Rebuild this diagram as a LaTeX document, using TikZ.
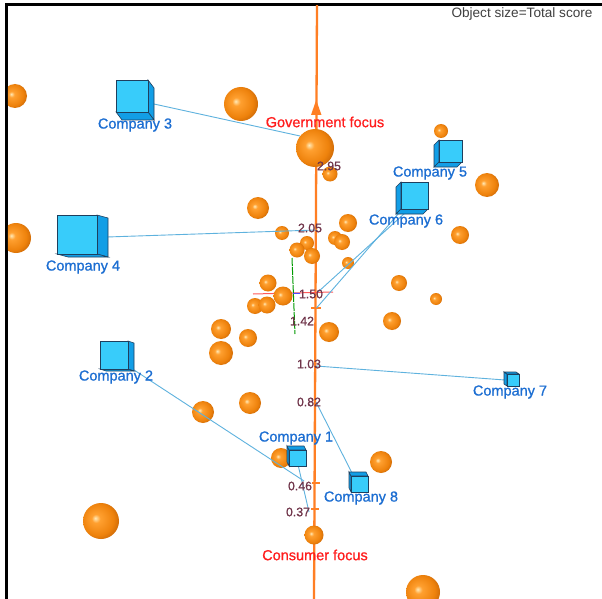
\documentclass[tikz,border=0pt]{standalone}
\usepackage{fontspec}
\setmainfont{Liberation Sans}
\newfontfamily\labelfont[FakeBold=0.9]{Liberation Sans}
\definecolor{axisorange}{HTML}{FF7F24}
\definecolor{sphHi}{HTML}{FFEAB8}
\definecolor{sphMid}{HTML}{FFA030}
\definecolor{sphBase}{HTML}{EE820C}
\definecolor{sphDark}{HTML}{9C4602}
\definecolor{cubeFront}{HTML}{38CCFA}
\definecolor{cubeSide}{HTML}{129EE6}
\definecolor{cubeEdge}{HTML}{1E3F5E}
\definecolor{linkblue}{HTML}{5EB2DE}
\definecolor{compblue}{HTML}{1C6ED2}
\definecolor{focusred}{HTML}{FF1E1E}
\definecolor{valcol}{HTML}{70354A}
\pgfdeclareradialshading{orangesphere}{\pgfqpoint{-8bp}{4bp}}{%
  color(0bp)=(sphHi); color(6bp)=(sphMid); color(22bp)=(sphBase);
  color(40bp)=(sphDark); color(50bp)=(sphDark)}
\tikzset{
  ball/.style={shading=orangesphere},
  link/.style={draw=linkblue, line width=0.9pt},
  complabel/.style={text=compblue, font=\labelfont\fontsize{14.5}{16}\selectfont, inner sep=0pt},
  focuslabel/.style={text=focusred, font=\labelfont\fontsize{14.5}{16}\selectfont, inner sep=0pt},
  vallabel/.style={text=valcol, font=\labelfont\fontsize{12.3}{14}\selectfont, inner sep=0pt},
  tick/.style={draw=axisorange, line width=1.2pt},
}
% sphere at (x,y) with radius r
\newcommand\orb[3]{\shade[ball] (#1,#2) circle (#3);}
% cube: name, front face x1 y1 x2 y2, depth offset dx dy
\newcommand\boxcube[7]{%
  \ifdim #6pt>0pt
    \filldraw[fill=cubeSide, draw=cubeEdge, line width=0.6pt]
      (#4,#3) -- ({#4+(#6)},{#3+(#7)}) -- ({#4+(#6)},{#5+(#7)}) -- (#4,#5) -- cycle;
  \else
    \filldraw[fill=cubeSide, draw=cubeEdge, line width=0.6pt]
      (#2,#3) -- ({#2+(#6)},{#3+(#7)}) -- ({#2+(#6)},{#5+(#7)}) -- (#2,#5) -- cycle;
  \fi
  \ifdim #7pt>0pt
    \filldraw[fill=cubeSide, draw=cubeEdge, line width=0.6pt]
      (#2,#5) -- ({#2+(#6)},{#5+(#7)}) -- ({#4+(#6)},{#5+(#7)}) -- (#4,#5) -- cycle;
  \else
    \filldraw[fill=cubeSide, draw=cubeEdge, line width=0.6pt]
      (#2,#3) -- ({#2+(#6)},{#3+(#7)}) -- ({#4+(#6)},{#3+(#7)}) -- (#4,#3) -- cycle;
  \fi
  \filldraw[fill=cubeFront, draw=cubeEdge, line width=0.6pt] (#2,#3) rectangle (#4,#5);
  \coordinate (#1) at ({(#2+#4)/2},{(#3+#5)/2});
}
\begin{document}
\begin{tikzpicture}[x=1pt,y=-1pt]
\useasboundingbox (0,0) rectangle (602,599);
\fill[white] (0,0) rectangle (602,599);

% frame
\draw[black, line width=2.6pt] (6.5,599) -- (6.5,4.5) -- (602,4.5);

\begin{scope}
\clip (7.8,5.8) rectangle (602,599);

% vertical axis
\coordinate (axTop) at (317,5);
\coordinate (axBot) at (314,599);
\draw[axisorange, line width=2.3pt] (axTop) -- (axBot);
\fill[axisorange] (316.2,100) -- (321.5,115) -- (311,115) -- cycle;

% reference marks near 1.50
\draw[red!65!white, line width=1pt] (253,294) -- (333,292);
\draw[green!60!black, line width=1pt, dash pattern=on 8pt off 1pt] (292,258) -- (295,334);
\draw[blue!70!white, line width=1pt] (293,293.5) -- (300,293.3);

% ticks on the axis
\draw[tick] (311,308) -- (321,308);
\draw[tick] (312,483) -- (320,483);
\draw[tick] (311,509) -- (319,509);

% spheres
\orb{15}{96}{12}
\orb{241}{104}{17}
\orb{315}{148}{19}
\orb{330}{174}{7.5}
\orb{441}{131}{7}
\orb{487}{185}{12}
\orb{258}{208}{11}
\orb{348}{223}{9}
\orb{16}{238}{15}
\orb{282}{233}{7}
\orb{460}{235}{9}
\orb{307}{243}{7}
\orb{297}{250}{7.5}
\orb{312}{256}{8}
\orb{335}{238}{7}
\orb{342}{242}{8}
\orb{348}{263}{6}
\orb{268}{283}{8.5}
\orb{283}{296}{9.5}
\orb{255}{306}{8}
\orb{267}{305}{8.5}
\orb{399}{283}{8}
\orb{436}{299}{6}
\orb{392}{321}{9}
\orb{329}{332}{10}
\orb{221}{329}{10}
\orb{248}{338}{9}
\orb{221}{353}{12}
\orb{250}{403}{11}
\orb{203}{412}{11}
\orb{281}{458}{10}
\orb{381}{462}{11}
\orb{101}{521}{18}
\orb{314}{535}{9.5}
\orb{423}{592}{17}

% axis anchor points for the companies
\coordinate (p295) at (300,136);
\coordinate (p205) at (316,230);
\coordinate (p150) at (318,292);
\coordinate (p150b) at (316.5,308);
\coordinate (p103) at (316,366);
\coordinate (p082) at (316,402);
\coordinate (p046) at (304,481);
\coordinate (p037) at (309,512);

% company anchor points
\coordinate (c3a) at (154,104);
\coordinate (c4a) at (107,237);
\coordinate (c6a) at (399,213);
\coordinate (c6b) at (405,213);
\coordinate (c7a) at (505,380);
\coordinate (c8a) at (352,473);
\coordinate (c2a) at (131,368);
\coordinate (c1a) at (296,456);

% links from companies to the axis
\draw[link] (c3a) -- (p295);
\draw[link] (c4a) -- (p205);
\draw[link] (c6a) -- (p150b);
\draw[link] (c6b) -- (p150);
\draw[link] (c7a) -- (p103);
\draw[link] (c8a) -- (p082);
\draw[link] (c2a) -- (p046);
\draw[link] (c1a) -- (p037);

% companies
\boxcube{comp3}{116}{80}{148}{112}{6}{8}
\boxcube{comp4}{57}{215}{97}{254}{11}{3}
\boxcube{comp2}{100}{341}{128}{369}{6}{2}
\boxcube{comp5}{439}{140}{462}{162}{-5}{5}
\boxcube{comp6}{401}{182}{428}{209}{-5}{5}
\boxcube{comp7}{507}{374}{519}{386}{-3}{-2}
\boxcube{comp1}{289}{450}{306}{466}{-2}{-4}
\boxcube{comp8}{351}{476}{368}{492}{-2}{-4}

% labels
\node[complabel] (l3) at (135,125) {Company 3};
\node[complabel] (l4) at (83,267) {Company 4};
\node[complabel] (l2) at (116,377) {Company 2};
\node[complabel] (l5) at (430,173) {Company 5};
\node[complabel] (l6) at (406,221) {Company 6};
\node[complabel] (l7) at (510,392) {Company 7};
\node[complabel] (l1) at (296,438) {Company 1};
\node[complabel] (l8) at (361,498) {Company 8};

\node[focuslabel] (gov) at (325,122) {Government focus};
\node[focuslabel] (con) at (315,555) {Consumer focus};

\node[vallabel] (v295) at (329,166) {2.95};
\node[vallabel] (v205) at (310,228) {2.05};
\node[vallabel] (v150) at (311,294) {1.50};
\node[vallabel] (v142) at (302,321) {1.42};
\node[vallabel] (v103) at (309,364) {1.03};
\node[vallabel] (v082) at (309,402) {0.82};
\node[vallabel] (v046) at (300,486) {0.46};
\node[vallabel] (v037) at (298,512) {0.37};

\node[text=black!75, font=\fontsize{13.6}{15}\selectfont, inner sep=0pt] (legend) at (522,14) {Object size=Total score};
\end{scope}
\end{tikzpicture}
\end{document}
